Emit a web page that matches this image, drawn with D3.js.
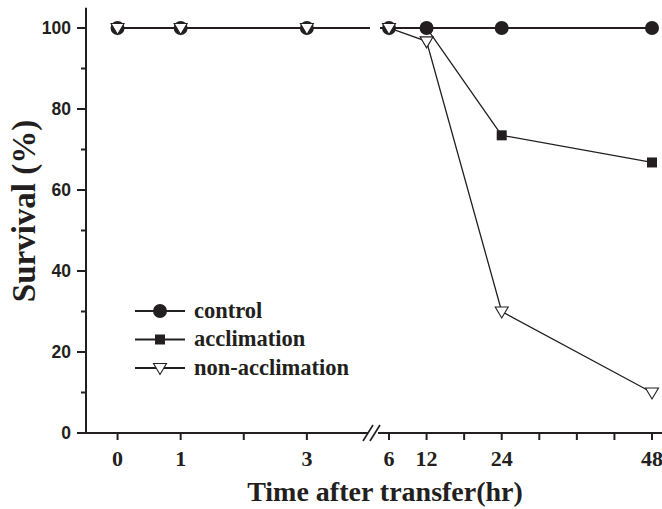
<!DOCTYPE html>
<html>
<head>
<meta charset="utf-8">
<script src="https://cdn.jsdelivr.net/npm/d3@7"></script>
<style>
  body { margin: 0; background: #fff; }
  svg { display: block; }
</style>
</head>
<body>
<div id="chart"></div>
<script>
// data
const times = [0, 1, 3, 6, 12, 24, 48];
const control = [100, 100, 100, 100, 100, 100, 100];
const acclimation = [null, null, null, 100, 100, 73.5, 66.8];
const nonAcclimation = [100, 100, 100, 100, 96.7, 30, 10];
const yTicks = [0, 20, 40, 60, 80, 100];
const xTicksLeft = [0, 1, 2, 3];
const xTicksRight = [6, 12, 18, 24, 30, 36, 42, 48];
const xLabels = [0, 1, 3, 6, 12, 24, 48];

const width = 662, height = 509;
const ink = "#231f20";
const serif = "'Liberation Serif', 'Times New Roman', serif";

const svg = d3.select("#chart").append("svg")
    .attr("width", width)
    .attr("height", height);

// scales - broken x axis, two segments
const xLeft = d3.scaleLinear().domain([-0.5, 4]).range([86, 370]);
const xRight = d3.scaleLinear().domain([6, 48]).range([389, 652]);
const breakAt = 4.6;
const x = t => t <= breakAt ? xLeft(t) : xRight(t);
const y = d3.scaleLinear().domain([0, 100]).range([433, 28]);

// clip so lines are broken at the axis gap
const defs = svg.append("defs");
const clip = defs.append("clipPath").attr("id", "gapclip");
clip.append("rect").attr("x", 0).attr("y", 0).attr("width", 370).attr("height", height);
clip.append("rect").attr("x", 380).attr("y", 0).attr("width", width - 380).attr("height", height);

// y axis
svg.append("line")
    .attr("x1", 86).attr("x2", 86)
    .attr("y1", y(105)).attr("y2", y(0))
    .attr("stroke", ink).attr("stroke-width", 2);

const yAxis = svg.append("g").attr("class", "y-axis");
d3.range(0, 101, 10).forEach(v => {
    const major = v % 20 === 0;
    yAxis.append("line")
        .attr("x1", 86).attr("x2", major ? 77 : 81)
        .attr("y1", y(v)).attr("y2", y(v))
        .attr("stroke", ink).attr("stroke-width", 2);
});
yAxis.selectAll("text")
    .data(yTicks)
    .join("text")
    .attr("x", 71)
    .attr("y", d => y(d))
    .attr("dy", "0.36em")
    .attr("text-anchor", "end")
    .style("font", "bold 17.5px 'Liberation Sans', Arial, sans-serif")
    .attr("fill", ink)
    .text(d => d);

// x axis (two pieces with break marks)
const xAxis = svg.append("g").attr("class", "x-axis");
xAxis.append("line")
    .attr("x1", 85).attr("x2", 368)
    .attr("y1", 433).attr("y2", 433)
    .attr("stroke", ink).attr("stroke-width", 2);
xAxis.append("line")
    .attr("x1", 378).attr("x2", width)
    .attr("y1", 433).attr("y2", 433)
    .attr("stroke", ink).attr("stroke-width", 2);
[0, 7].forEach(off => {
    xAxis.append("line")
        .attr("x1", 363 + off).attr("y1", 441)
        .attr("x2", 373 + off).attr("y2", 425)
        .attr("stroke", ink).attr("stroke-width", 1.6);
});
xTicksLeft.concat(xTicksRight).forEach(t => {
    xAxis.append("line")
        .attr("x1", x(t)).attr("x2", x(t))
        .attr("y1", 433).attr("y2", 440)
        .attr("stroke", ink).attr("stroke-width", 2);
});
xAxis.selectAll("text")
    .data(xLabels)
    .join("text")
    .attr("x", d => x(d))
    .attr("y", 466)
    .attr("text-anchor", "middle")
    .style("font", `bold 22px ${serif}`)
    .attr("fill", ink)
    .text(d => d);

// axis titles
svg.append("text")
    .attr("x", 385).attr("y", 501)
    .attr("text-anchor", "middle")
    .style("font", `bold 28px ${serif}`)
    .attr("fill", ink)
    .text("Time after transfer(hr)");
svg.append("text")
    .attr("transform", "translate(35,211) rotate(-90)")
    .attr("text-anchor", "middle")
    .style("font", `bold 33px ${serif}`)
    .attr("fill", ink)
    .text("Survival (%)");

// series
const series = [
    { name: "control", values: control, width: 2.2, marker: "circle" },
    { name: "acclimation", values: acclimation, width: 1.3, marker: "square" },
    { name: "non-acclimation", values: nonAcclimation, width: 1.3, marker: "triangle" }
];

const line = d3.line()
    .defined(d => d.v != null)
    .x(d => x(d.t))
    .y(d => y(d.v));

const plot = svg.append("g").attr("clip-path", "url(#gapclip)");
series.forEach(s => {
    const pts = times.map((t, i) => ({ t: t, v: s.values[i] }));
    plot.append("path")
        .datum(pts)
        .attr("fill", "none")
        .attr("stroke", ink)
        .attr("stroke-width", s.width)
        .attr("d", line);
});

function drawMarker(g, type, cx, cy) {
    if (type === "circle") {
        g.append("circle").attr("cx", cx).attr("cy", cy).attr("r", 7)
            .attr("fill", ink);
    } else if (type === "square") {
        g.append("rect").attr("x", cx - 5).attr("y", cy - 5)
            .attr("width", 10).attr("height", 10).attr("fill", ink);
    } else {
        g.append("path")
            .attr("d", `M${cx - 6.5},${cy - 4.5} L${cx + 6.5},${cy - 4.5} L${cx},${cy + 6.5} Z`)
            .attr("fill", "#fff")
            .attr("stroke", ink)
            .attr("stroke-width", 1.1);
    }
}

const markers = svg.append("g");
series.forEach(s => {
    times.forEach((t, i) => {
        const v = s.values[i];
        if (v == null) return;
        drawMarker(markers, s.marker, x(t), y(v));
    });
});

// legend
const legend = svg.append("g").attr("class", "legend");
series.forEach((s, i) => {
    const ly = 311 + i * 28.5;
    legend.append("line")
        .attr("x1", 135).attr("x2", 185)
        .attr("y1", ly).attr("y2", ly)
        .attr("stroke", ink).attr("stroke-width", 2);
    drawMarker(legend, s.marker, 160, ly);
    legend.append("text")
        .attr("x", 194).attr("y", ly)
        .attr("dy", "0.3em")
        .style("font", `bold 22.5px ${serif}`)
        .attr("fill", ink)
        .text(s.name);
});
</script>
</body>
</html>
